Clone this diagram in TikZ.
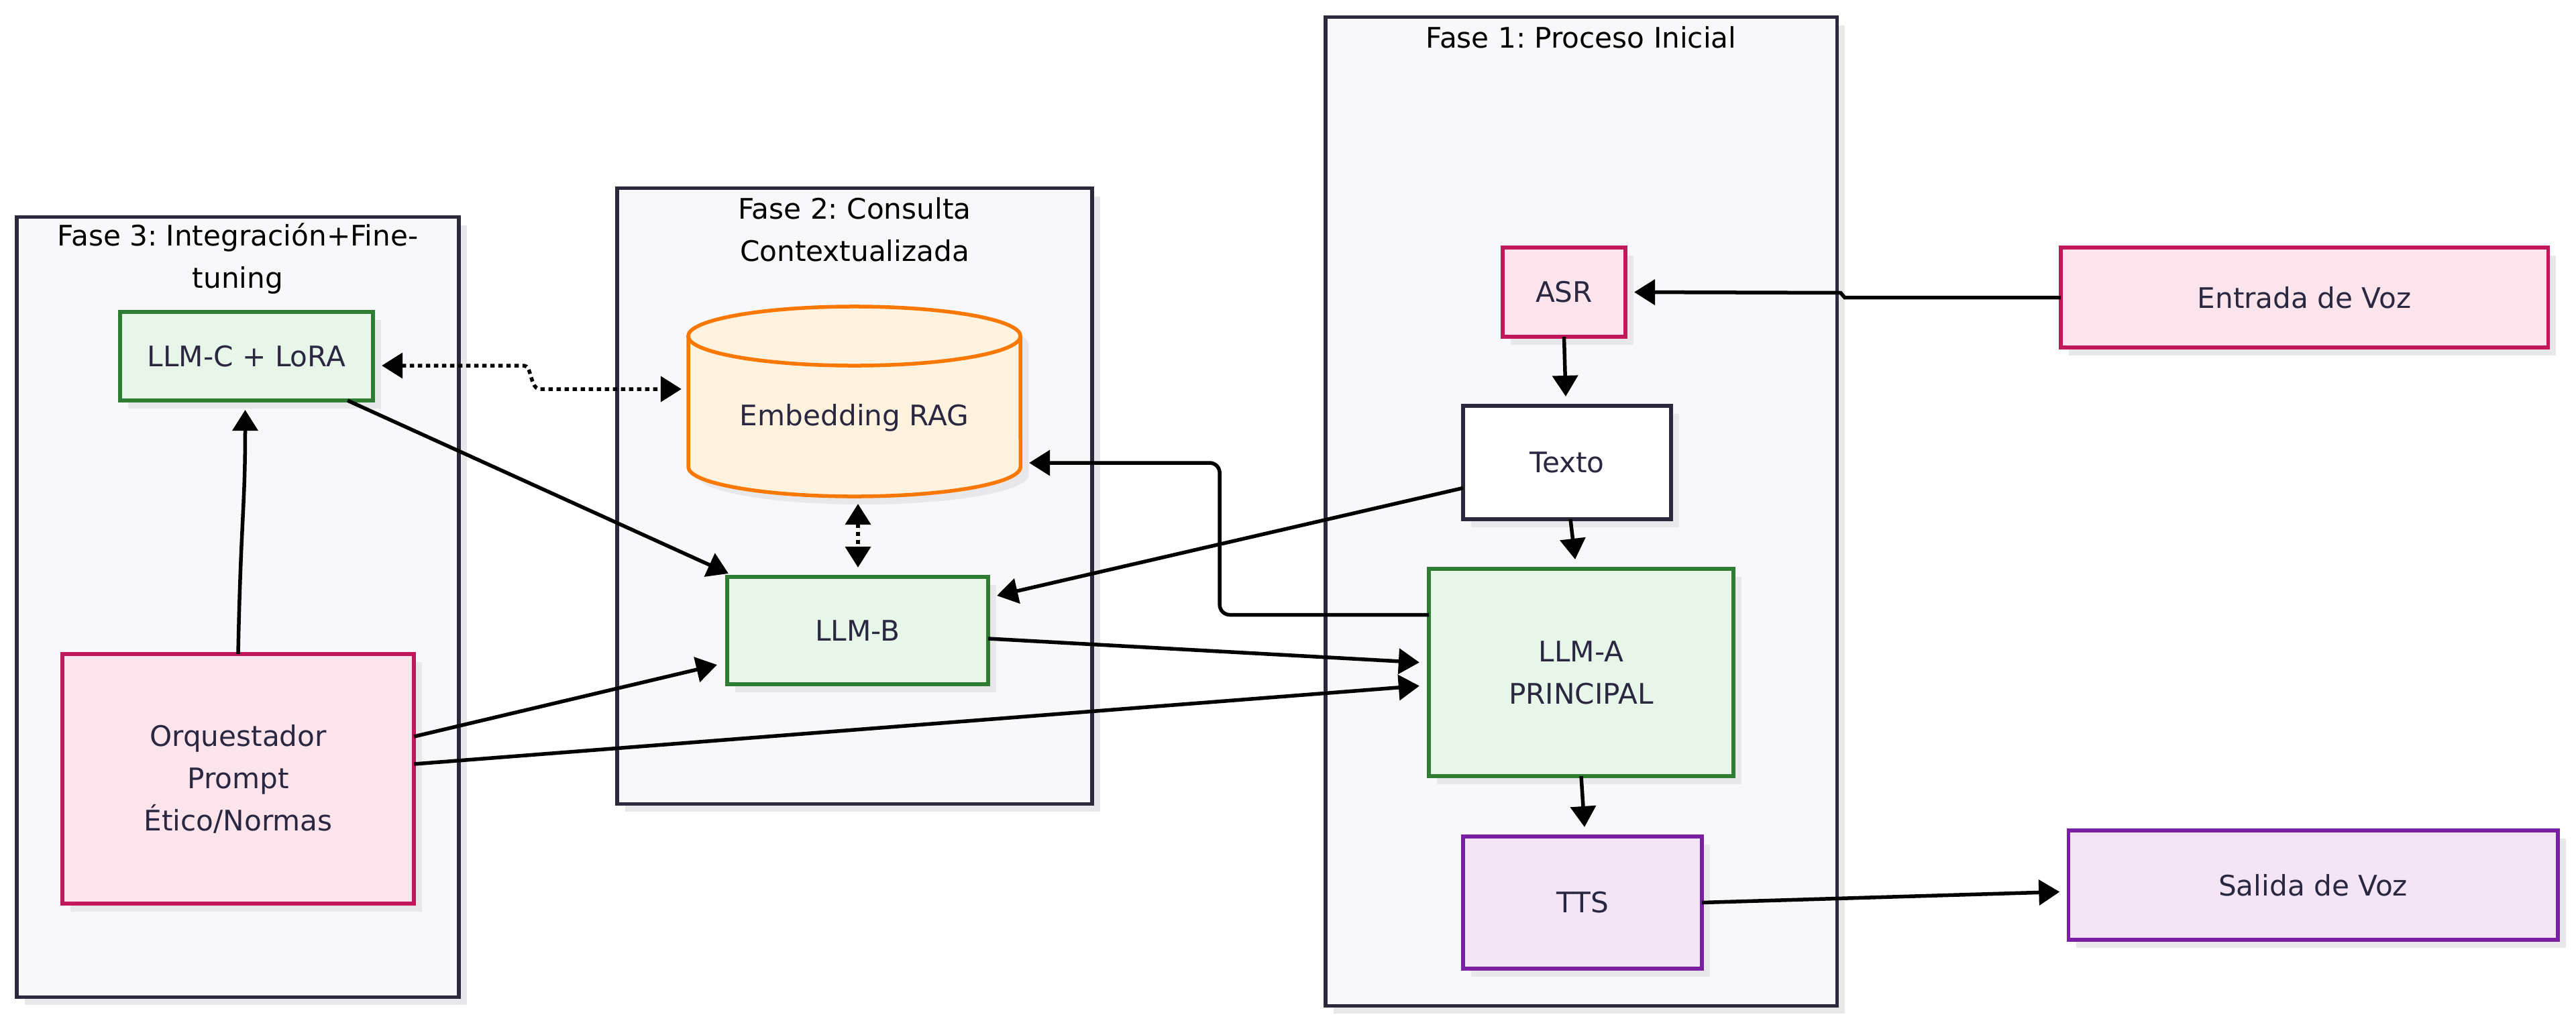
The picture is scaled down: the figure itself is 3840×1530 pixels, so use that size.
\documentclass[tikz,border=0pt]{standalone}
\usepackage{fontspec}
\setmainfont{DejaVu Sans}
\frenchspacing
\usetikzlibrary{arrows.meta,calc,shadows}
\definecolor{clfill}{HTML}{F8F8FA}
\definecolor{cldraw}{HTML}{2A2A3C}
\definecolor{shc}{HTML}{E8E8EB}
\definecolor{txtc}{HTML}{2A2740}
\definecolor{gdraw}{HTML}{2E7D32}
\definecolor{gfill}{HTML}{E8F5E9}
\definecolor{pdraw}{HTML}{C2185B}
\definecolor{pfill}{HTML}{FCE4EC}
\definecolor{odraw}{HTML}{FB7800}
\definecolor{ofill}{HTML}{FFF3E0}
\definecolor{vdraw}{HTML}{7B1FA2}
\definecolor{vfill}{HTML}{F3E5F5}
\newcommand\dgfont{\fontsize{12pt}{17.9pt}\selectfont\frenchspacing}
\tikzset{
  dshadow/.style={drop shadow={shadow xshift=0.12cm, shadow yshift=-0.12cm, fill=shc, opacity=1}},
  cluster/.style={rectangle, draw=cldraw, fill=clfill, line width=0.055cm, inner sep=0pt, outer sep=0pt, dshadow},
  ttl/.style={font=\dgfont, text=black, align=center, inner sep=0pt},
  box/.style={rectangle, line width=0.055cm, inner sep=0pt, outer sep=0pt, text=txtc, align=center, font=\dgfont, dshadow},
  gbox/.style={box, draw=gdraw, fill=gfill},
  pbox/.style={box, draw=pdraw, fill=pfill},
  vbox/.style={box, draw=vdraw, fill=vfill},
  wbox/.style={box, draw=cldraw, fill=white},
  lbl/.style={text=txtc, font=\dgfont, inner sep=0pt},
  arr/.style={line width=0.055cm, -{Triangle[length=0.31cm,width=0.375cm]}},
  dotarr/.style={line width=0.055cm, dash pattern=on 0.065cm off 0.055cm,
     {Triangle[length=0.31cm,width=0.375cm]}-{Triangle[length=0.31cm,width=0.375cm]}},
}
\begin{document}
\begin{tikzpicture}[x=0.01cm,y=-0.01cm]
\useasboundingbox[fill=white] (0,0) rectangle (3840,1530);

% clusters
\node[cluster, minimum width=6.59cm, minimum height=11.62cm] (f3) at (354.5,905) {};
\node[cluster, minimum width=7.08cm, minimum height=9.17cm] (f2) at (1274,739.5) {};
\node[cluster, minimum width=7.62cm, minimum height=14.73cm] (f1) at (2357,762.5) {};
\node[ttl] (f3t) at (354.5,385.5) {Fase 3: Integración+Fine-\\tuning};
\node[ttl] (f2t) at (1274,342.5) {Fase 2: Consulta\\Contextualizada};
\node[ttl] (f1t) at (2357,56) {Fase 1: Proceso Inicial};

% nodes
\node[gbox, minimum width=3.77cm, minimum height=1.32cm] (llmc) at (367.5,531) {LLM-C + LoRA};
\node[pbox, minimum width=5.24cm, minimum height=3.72cm] (orq) at (355,1161) {Orquestador\\Prompt\\Ético/Normas};
\node[gbox, minimum width=3.89cm, minimum height=1.60cm] (llmb) at (1278.5,940) {LLM-B};
\node[pbox, minimum width=1.83cm, minimum height=1.33cm] (asr) at (2331.5,435.5) {ASR};
\node[wbox, minimum width=3.10cm, minimum height=1.69cm] (texto) at (2336,689.5) {Texto};
\node[gbox, minimum width=4.54cm, minimum height=3.09cm] (llma) at (2357,1002.5) {LLM-A\\PRINCIPAL};
\node[vbox, minimum width=3.56cm, minimum height=1.97cm] (tts) at (2359,1345.5) {TTS};
\node[pbox, minimum width=7.26cm, minimum height=1.49cm] (entrada) at (3435,443.5) {Entrada de Voz};
\node[vbox, minimum width=7.29cm, minimum height=1.63cm] (salida) at (3448,1319.5) {Salida de Voz};

% cylinder (Embedding RAG)
\node[inner sep=0pt, outer sep=0pt, minimum width=4.95cm, minimum height=2.83cm] (rag) at (1273.5,598.5) {};
\begin{scope}[shift={(12,12)}]
\fill[shc] (1026,501) -- (1026,696) arc[start angle=180, end angle=360, x radius=2.475cm, y radius=0.44cm]
  -- (1521,501) arc[start angle=0, end angle=180, x radius=2.475cm, y radius=0.44cm] -- cycle;
\end{scope}
\fill[ofill] (1026,501) -- (1026,696) arc[start angle=180, end angle=360, x radius=2.475cm, y radius=0.44cm]
  -- (1521,501) arc[start angle=0, end angle=180, x radius=2.475cm, y radius=0.44cm] -- cycle;
\draw[odraw, line width=0.055cm] (1026,501) -- (1026,696) arc[start angle=180, end angle=360, x radius=2.475cm, y radius=0.44cm] -- (1521,501);
\draw[odraw, line width=0.055cm] (1273.5,501) ellipse [x radius=2.475cm, y radius=0.44cm];
\node[lbl] (ragl) at ($(rag.center)+(0,24)$) {Embedding RAG};

% connectors
\draw[arr] (entrada.west) -- ++(-322,0) -- ++(-6,-7) -- ($(asr.east)+(13,0)$);
\draw[arr] (asr.south) -- ($(texto.north)+(-2,-14)$);
\draw[arr] ($(texto.south)+(5,0)$) -- ($(llma.north)+(-9,-14)$);
\draw[arr] (llma.south) -- ($(tts.north)+(3,-14)$);
\draw[arr] (tts.east) -- ($(salida.west)+(-13,10)$);
\draw[arr] ($(texto.west)+(0,38)$) -- ($(llmb.east)+(13,-52)$);
\draw[arr] ($(llmb.east)+(0,12)$) -- ($(llma.west)+(-14,-15)$);
\draw[arr] ($(orq.east)+(0,-22)$) -- ($(llma.west)+(-14,20)$);
\draw[arr] ($(orq.east)+(0,-63)$) -- ($(llmb.west)+(-15,51)$);
\draw[arr] ($(llmc.south east)+(-38,0)$) -- ($(llmb.north west)+(2,-5)$);
\draw[arr] (orq.north) .. controls ($(orq.north)+(4,-200)$) and ($(llmc.south)+(-2,160)$) .. ($(llmc.south)+(-2,14)$);

\coordinate (j1) at ($(llmc.east)+(225,14)$);
\coordinate (j2) at ($(rag.west)+(-221,-18.5)$);
\draw[dotarr] ($(llmc.east)+(13,14)$) -- (j1) .. controls ($(j1)+(12,0)$) and ($(j2)+(-15,0)$) .. (j2) -- ($(rag.west)+(-10,-18.5)$);
\draw[dotarr] ($(rag.south)+(5.5,11)$) -- ($(llmb.north)+(0.5,-14)$);

\coordinate (ragin) at ($(rag.east)+(13,91.5)$);
\coordinate (elbow) at ($(ragin)+(284,0)$);
\draw[arr, rounded corners=0.15cm] ($(llma.west)+(0,-86)$) -| (elbow) -- (ragin);
\end{tikzpicture}
\end{document}
